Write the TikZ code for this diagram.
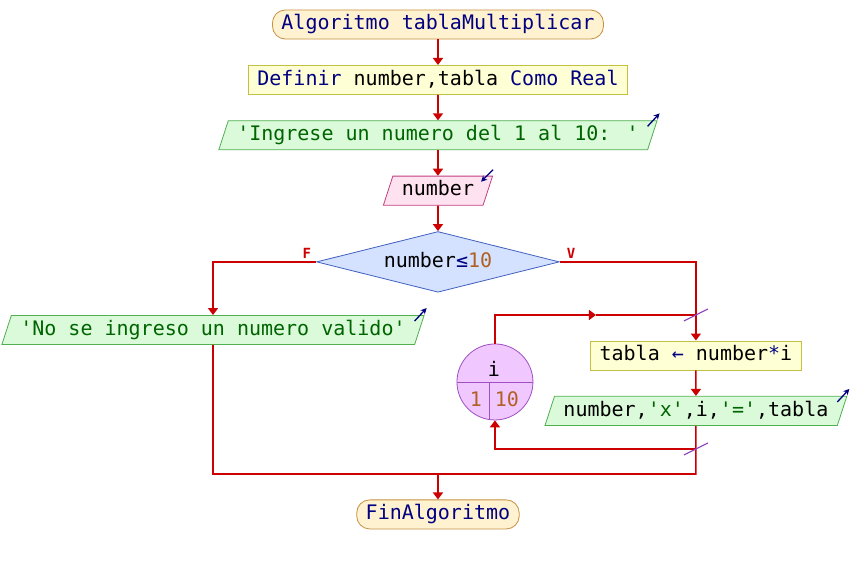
\documentclass[tikz,border=0pt]{standalone}
\usepackage{fontspec}
\setmainfont{DejaVu Sans Mono}[Ligatures=TeXOff]
\usepackage{tikz}
\usetikzlibrary{positioning, arrows.meta, shapes.geometric}
\definecolor{flowred}{RGB}{204,0,0}
\definecolor{kwblue}{RGB}{0,0,128}
\definecolor{strgreen}{RGB}{0,100,0}
\definecolor{numbrown}{RGB}{176,96,32}
\definecolor{termfill}{RGB}{255,242,208}
\definecolor{termdraw}{RGB}{200,144,64}
\definecolor{procfill}{RGB}{255,255,214}
\definecolor{procdraw}{RGB}{196,192,64}
\definecolor{outfill}{RGB}{218,250,218}
\definecolor{outdraw}{RGB}{80,176,80}
\definecolor{infill}{RGB}{255,226,240}
\definecolor{indraw}{RGB}{192,64,128}
\definecolor{condfill}{RGB}{212,226,255}
\definecolor{conddraw}{RGB}{64,96,192}
\definecolor{loopfill}{RGB}{240,200,255}
\definecolor{loopdraw}{RGB}{160,80,192}
\definecolor{cutviolet}{RGB}{144,64,192}
\newcommand{\kw}[1]{\textcolor{kwblue}{#1}}
\newcommand{\str}[1]{\textcolor{strgreen}{#1}}
\newcommand{\num}[1]{\textcolor{numbrown}{#1}}
\tikzset{
        node distance=25.5pt, % gap between boxes of the main chain
        base box/.style={
		font=\fontsize{20}{24}\selectfont,
		text height=15pt,
		text depth=4.5pt,
		inner xsep=9pt,
		inner ysep=4.8pt,
		line width=0.8pt,
	  },
  		term box/.style={base box, rounded corners=13pt, fill=termfill, draw=termdraw, text=kwblue},
  		proc box/.style={base box, fill=procfill, draw=procdraw},
  		out box/.style={base box, trapezium, trapezium left angle=72, trapezium right angle=108,
    	fill=outfill, draw=outdraw},
  		in box/.style={out box, fill=infill, draw=indraw},
  		cond box/.style={base box, diamond, aspect=4, minimum width=238pt, minimum height=58pt,
    	fill=condfill, draw=conddraw},
  		loop circ/.style={circle, minimum size=76pt, inner sep=0pt, fill=loopfill, draw=loopdraw, line width=0.8pt},
  		loop text/.style={font=\fontsize{20}{24}\selectfont, inner sep=0pt},
  		flow/.style={draw=flowred, line width=1.6pt},
  		flow arrow/.style={flow, -{Triangle[width=10pt,length=7pt]}},
  		io mark/.style={draw=kwblue, line width=1.3pt, -{Stealth[length=6pt,width=6pt]}},
  		loop cut/.style={draw=cutviolet, line width=1.2pt},
  		flag/.style={font=\fontsize{14}{16}\selectfont\bfseries, text=flowred, inner sep=1pt},
  	}
\begin{document}
\begin{tikzpicture}[x=1pt, y=-1pt]
    \fill[white] (0,0) rectangle (850,565);
    % main chain
    \node [term box] (start) at (438,24.5) {Algoritmo tablaMultiplicar};
    \node [proc box, below=of start] (define) {\kw{Definir} number,tabla \kw{Como Real}};
    \node [out box, below=of define] (ask) {\str{'Ingrese un numero del 1 al 10: '}};
    \node [in box, below=of ask] (read) {number};
    \node [cond box, below=of read] (check) {number\kw{≤}\num{10}};
    \node [flag, anchor=south east] (flagF) at ([xshift=-4pt,yshift=2pt]check.west) {F};
    \node [flag, anchor=south west] (flagV) at ([xshift=6pt,yshift=2pt]check.east) {V};
    % branches
    \node [out box] (invalid) at (213,330) {\str{'No se ingreso un numero valido'}};
    \node [proc box] (calc) at (696,355.5) {tabla \kw{←} number\kw{*}i};
    \node [out box, below=of calc] (show) {number,\str{'x'},i,\str{'='},tabla};
    \node [loop circ] (loop) at (495,382) {};
    \node [loop text] (loopvar) at ([xshift=-1pt,yshift=13pt]loop.center) {i};
    \node [loop text, text=numbrown] (loopfrom) at ([xshift=-19pt,yshift=-17pt]loop.center) {1};
    \node [loop text, text=numbrown] (loopto) at ([xshift=12pt,yshift=-17pt]loop.center) {10};
    \coordinate (joinL) at (213,474);
    \coordinate (joinM) at (438,474);
    \coordinate (joinR) at (696,474);
    \coordinate (loopTop) at (696,315);
    \coordinate (loopMid) at (596,315);
    \coordinate (loopBot) at (696,449);
    \node [term box, below=of joinM] (end) {FinAlgoritmo};
    % connectors
    \draw [flow arrow] (start) -- (define);
    \draw [flow arrow] (define) -- (ask);
    \draw [flow arrow] (ask) -- (read);
    \draw [flow arrow] (read) -- (check);
    \draw [flow arrow] (check.west) -| (invalid.north);
    \draw [flow arrow] (check.east) -| (calc.north);
    \draw [flow arrow] (calc) -- (show);
    \draw [flow] (invalid.south) -- (joinL) -- (joinR) -- (show.south);
    \draw [flow arrow] (joinM) -- (end);
    % loop
    \draw [flow arrow] (loop.north) |- (loopMid);
    \draw [flow] (loopMid) -- (loopTop);
    \draw [flow arrow] (loopBot) -| (loop.south);
    \draw [draw=loopdraw, line width=0.8pt] (loop.west) -- (loop.east);
    \draw [draw=loopdraw, line width=0.8pt] ([xshift=-6pt]loop.center) -- ([xshift=-6pt,yshift=1pt]loop.south);
    \draw [loop cut] ([xshift=-12pt,yshift=-6pt]loopTop) -- ([xshift=12pt,yshift=6pt]loopTop);
    \draw [loop cut] ([xshift=-12pt,yshift=-6pt]loopBot) -- ([xshift=12pt,yshift=6pt]loopBot);
    % in/out marks
    \draw [io mark] ([xshift=-10pt,yshift=-6pt]ask.top right corner) -- ([xshift=2pt,yshift=7pt]ask.top right corner);
    \draw [io mark] ([xshift=-10pt,yshift=-6pt]invalid.top right corner) -- ([xshift=2pt,yshift=7pt]invalid.top right corner);
    \draw [io mark] ([xshift=-10pt,yshift=-6pt]show.top right corner) -- ([xshift=2pt,yshift=7pt]show.top right corner);
    \draw [io mark] ([yshift=6pt]read.top right corner) -- ([xshift=-12pt,yshift=-6pt]read.top right corner);
\end{tikzpicture}
\end{document}
